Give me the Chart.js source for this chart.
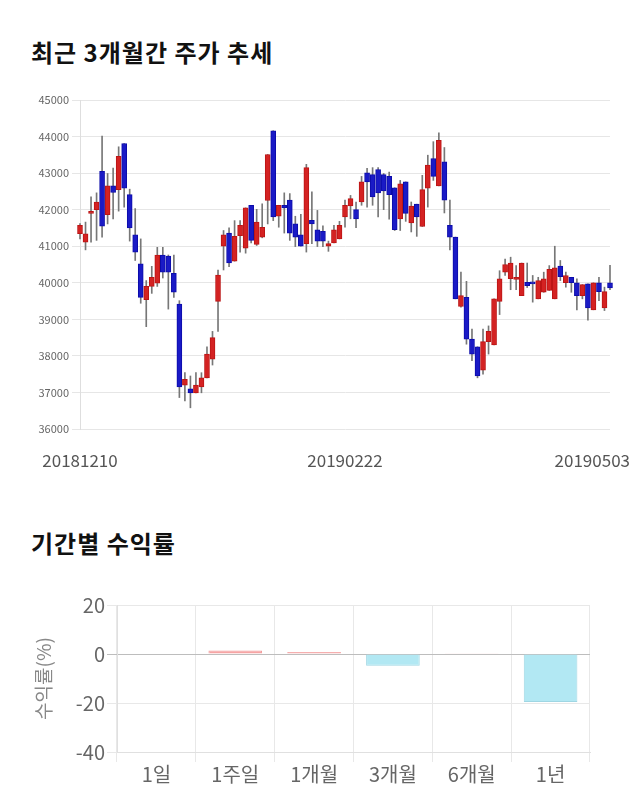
<!DOCTYPE html>
<html>
<head>
<meta charset="utf-8">
<script src="https://cdn.jsdelivr.net/npm/chart.js@4.4.1/dist/chart.umd.min.js"></script>
<style>
    body { margin: 0; background: #fff; width: 640px; height: 810px; position: relative; overflow: hidden;
           font-family: "Noto Sans CJK KR", "Noto Sans", sans-serif; }
    h2 { position: absolute; left: 31px; margin: 0; font-size: 24px; line-height: 24px; font-weight: bold;
         color: #111; letter-spacing: 1px; }
    #title1 { top: 40px; }
    #title2 { top: 531px; }
    #box1 { position: absolute; left: 0; top: 85px; width: 640px; height: 395px; }
    #box2 { position: absolute; left: 0; top: 585px; width: 640px; height: 215px; }
</style>
</head>
<body>
<h2 id="title1">최근 3개월간 주가 추세</h2>
<div id="box1"><canvas id="priceChart"></canvas></div>
<h2 id="title2">기간별 수익률</h2>
<div id="box2"><canvas id="returnChart"></canvas></div>

<script>
// daily candles, 2018-12-10 .. 2019-05-03 (97 trading days)
const openPrices = [
    41340, 41110, 41900, 42000, 43050, 41860, 42650, 42550, 43810, 42410,
    41310, 40520, 39540, 39900, 39990, 40760, 40730, 40260, 39420, 37200,
    37100, 36990, 37150, 37400, 37910, 39490, 41000, 41360, 40590, 41290,
    40950, 42120, 41050, 41250, 42250, 44160, 41820, 42120, 42260, 41610,
    41310, 41070, 41710, 41450, 41410, 41000, 41090, 41200, 41800, 42100,
    42000, 42210, 43010, 42960, 43100, 42960, 42910, 42600, 41750, 42760,
    41640, 42150, 41540, 42590, 43400, 42650, 43310, 41570, 41250, 39350,
    39600, 38460, 38250, 37610, 38390, 38300, 39490, 40290, 40110, 40090,
    39650, 40010, 40000, 39560, 39740, 39790, 39560, 40460, 40000, 40150,
    40000, 39650, 39970, 39260, 40000, 39310, 40000
];
const highPrices = [
    41620, 41660, 42350, 42460, 44010, 42990, 43140, 43720, 43810, 42560,
    42030, 41200, 40060, 40450, 40970, 40970, 40760, 40760, 39510, 37540,
    37450, 37540, 37540, 38250, 38670, 40350, 41430, 41500, 41700, 41700,
    42050, 42120, 42010, 42160, 43510, 44160, 42120, 42460, 42440, 41820,
    41870, 43240, 42490, 41980, 41560, 41140, 41570, 41680, 42260, 42390,
    42210, 42910, 43130, 43150, 43150, 42990, 43030, 42600, 42800, 42760,
    42210, 42150, 42940, 43490, 43860, 44100, 43700, 42260, 41250, 40290,
    40040, 38730, 38250, 38730, 38820, 39560, 40330, 40650, 40700, 40470,
    40540, 40540, 40200, 40150, 40290, 40470, 41000, 40610, 40290, 40150,
    40110, 39950, 39970, 40000, 40150, 39880, 40480
];
const lowPrices = [
    41200, 40900, 41110, 41160, 41250, 41610, 41750, 41960, 42070, 41140,
    40610, 39440, 38800, 39710, 39900, 40130, 39280, 39600, 36860, 36770,
    36580, 36990, 36990, 37400, 37750, 38670, 40350, 40440, 40590, 40840,
    40810, 41090, 41020, 41230, 41610, 41700, 41520, 41360, 41160, 40990,
    41000, 40840, 41070, 40990, 40990, 40860, 41090, 41200, 41520, 41750,
    41510, 42120, 42070, 42120, 41800, 42000, 41740, 41430, 41430, 41680,
    41390, 41270, 41540, 42070, 42800, 42650, 41910, 40900, 39560, 39330,
    38320, 37870, 37400, 37500, 38050, 38300, 39130, 40200, 39810, 39810,
    39650, 39870, 39470, 39560, 39740, 39790, 39560, 40060, 39880, 39740,
    39260, 39560, 38980, 39260, 39510, 39240, 39810
];
const closePrices = [
    41570, 41340, 41950, 42210, 41550, 42650, 42470, 43460, 42590, 41500,
    40840, 39600, 39900, 40150, 40760, 40290, 40290, 39740, 37150, 37360,
    36990, 37200, 37400, 38050, 38500, 40210, 41310, 40540, 41270, 41570,
    42050, 41160, 41660, 41520, 43510, 41800, 42120, 42050, 41360, 41250,
    41000, 43150, 41610, 41140, 41140, 41070, 41450, 41570, 42120, 42300,
    41750, 42760, 42760, 42350, 42460, 42510, 42410, 41450, 42710, 41900,
    42100, 41800, 42550, 43220, 42910, 43900, 42260, 41250, 39560, 39650,
    38460, 38050, 37450, 38390, 38670, 39560, 40110, 40500, 40540, 40150,
    40540, 39920, 39970, 40060, 40110, 40370, 40410, 40170, 40200, 40000,
    39650, 39950, 39310, 40000, 39760, 39760, 39860
];
const xTickLabels = { 0: '20181210', 48: '20190222', 96: '20190503' };
const priceTicks = { min: 36000, max: 45000, step: 1000 };

// period returns
const periods = ['1일', '1주일', '1개월', '3개월', '6개월', '1년'];
const returns = [0, 1.4, 0.8, -4.8, 0.1, -19.6];

const FONT = '"Noto Sans CJK KR", "Noto Sans", sans-serif';
Chart.defaults.font.family = FONT;
Chart.defaults.animation = false;

const UP = '#d42222', UP_EDGE = '#bb1515';
const DOWN = '#1a1ac6', DOWN_EDGE = '#0c0caa';

const isUp = closePrices.map((c, i) => c >= openPrices[i]);

// draws the three date labels under the candles, kept inside the canvas
const dateLabels = {
    id: 'dateLabels',
    afterDraw(chart) {
        const ctx = chart.ctx;
        const xs = chart.scales.x;
        ctx.save();
        ctx.font = '17px ' + FONT;
        ctx.fillStyle = '#555';
        ctx.textAlign = 'center';
        ctx.textBaseline = 'middle';
        Object.keys(xTickLabels).forEach(k => {
            const text = xTickLabels[k];
            const w = ctx.measureText(text).width;
            let x = xs.getPixelForValue(Number(k));
            x = Math.max(w / 2 + 10, Math.min(x, chart.width - w / 2 - 10));
            ctx.fillText(text, x, chart.chartArea.bottom + 32);
        });
        ctx.restore();
    }
};

new Chart(document.getElementById('priceChart'), {
    type: 'bar',
    data: {
        labels: openPrices.map((_, i) => i),
        datasets: [
            {
                label: 'body',
                data: openPrices.map((o, i) => [o, closePrices[i]]),
                backgroundColor: isUp.map(u => u ? UP : DOWN),
                borderColor: isUp.map(u => u ? UP_EDGE : DOWN_EDGE),
                borderWidth: 1,
                borderSkipped: false,
                barThickness: 5,
                minBarLength: 2,
                grouped: false,
                clip: false,
                order: 1
            },
            {
                label: 'wick',
                data: lowPrices.map((l, i) => [l, highPrices[i]]),
                backgroundColor: '#777',
                barThickness: 1,
                grouped: false,
                clip: false,
                order: 2
            }
        ]
    },
    options: {
        responsive: true,
        maintainAspectRatio: false,
        layout: { padding: { left: 0, right: 30, top: 15, bottom: 51 } },
        plugins: { legend: { display: false }, tooltip: { enabled: false } },
        scales: {
            x: {
                display: false,
                offset: false
            },
            y: {
                min: priceTicks.min,
                max: priceTicks.max,
                afterFit: scale => { scale.width = 80; },
                ticks: {
                    stepSize: priceTicks.step, color: '#666', font: { size: 11 }, padding: 3,
                    callback: v => String(v)
                },
                grid: { color: '#e6e6e6', tickLength: 8 },
                border: { color: '#dedede' }
            }
        }
    },
    plugins: [dateLabels]
});

new Chart(document.getElementById('returnChart'), {
    type: 'bar',
    data: {
        labels: periods,
        datasets: [{
            data: returns,
            backgroundColor: returns.map(v => v >= 0 ? '#f6a4a4' : '#b2e8f3'),
            borderColor: returns.map(v => v >= 0 ? '#f29a9a' : '#9fd6e3'),
            borderWidth: 1,
            categoryPercentage: 1,
            barPercentage: 0.68
        }]
    },
    options: {
        responsive: true,
        maintainAspectRatio: false,
        layout: { padding: { left: 30, right: 50, top: 20, bottom: 14 } },
        plugins: { legend: { display: false }, tooltip: { enabled: false } },
        scales: {
            x: {
                ticks: { color: '#666', font: { size: 20 }, padding: 0 },
                grid: { color: '#e8e8e8', tickLength: 10, offset: true },
                border: { color: '#e0e0e0' }
            },
            y: {
                min: -40,
                max: 20,
                afterFit: scale => { scale.width = 87; },
                ticks: { stepSize: 20, color: '#666', font: { size: 20 }, padding: 2 },
                grid: {
                    color: ctx => ctx.tick && ctx.tick.value === 0 ? '#bdbdbd' : '#e8e8e8',
                    tickLength: 10
                },
                border: { color: '#e0e0e0' },
                title: { display: true, text: '수익률(%)', color: '#888', font: { size: 19 }, padding: 2 }
            }
        }
    }
});
</script>
</body>
</html>
